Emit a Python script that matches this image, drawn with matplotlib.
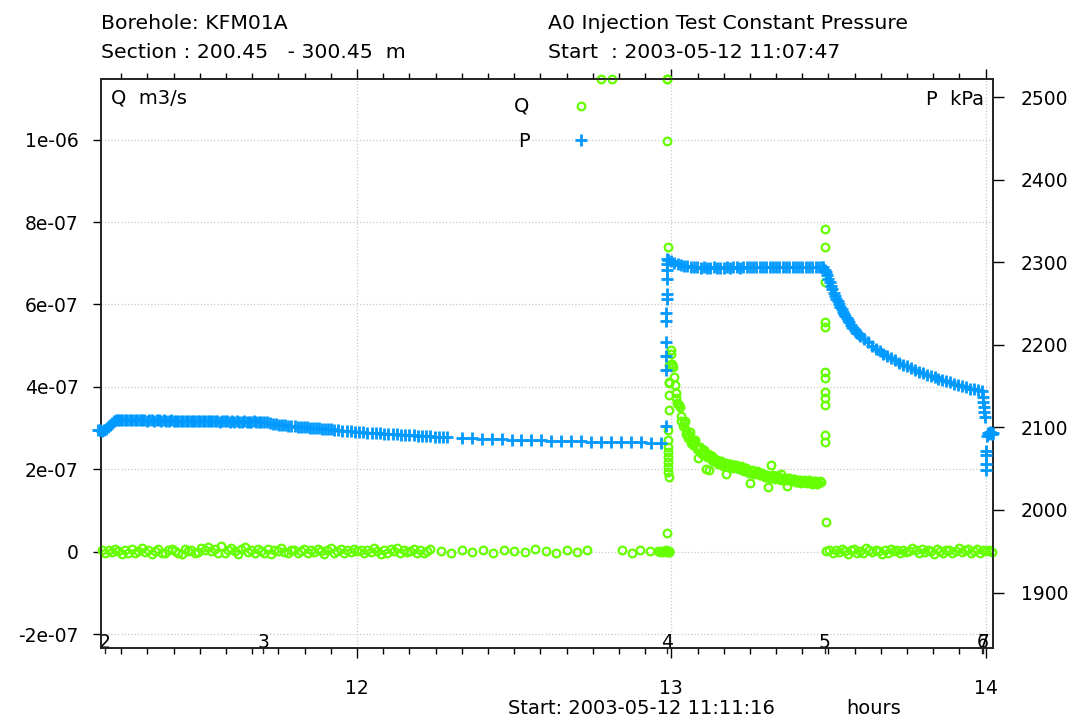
import numpy as np
import matplotlib.pyplot as plt
import matplotlib.transforms as mtransforms
from matplotlib.lines import Line2D
from matplotlib.ticker import MultipleLocator, FixedLocator, FuncFormatter

plt.rcParams['font.family'] = ['DejaVu Sans']

# times: minutes after 11:00, flow Q: 1e-9 m3/s, pressure P: kPa
Q_UNIT = 1e-9

# ---- pressure P ----
p_start = [2097, 2096.5, 2096, 2097, 2098.5, 2100.5, 2103, 2105.5, 2107.5, 2108.5]
p_hold1 = [2108.5, 2109, 2109, 2108.5, 2109, 2108.5, 2108.5, 2109, 2108.5, 2108.5,
           2108.5, 2108.5, 2108, 2108.5, 2108.5, 2108, 2108.5, 2108.5, 2108, 2108.5,
           2108, 2108, 2108.5, 2108, 2108, 2108, 2108, 2107.5, 2108, 2108,
           2108, 2107.5, 2108, 2107.5, 2107.5, 2108, 2107.5, 2107.5, 2107.5, 2107.5,
           2107.5, 2107.5, 2107, 2107.5, 2107.5, 2107.5, 2107, 2107.5, 2107, 2107.5,
           2107, 2107, 2107.5, 2107, 2107, 2107, 2107.5, 2107, 2107, 2107]
p_fall1 = [2106.8, 2106.0, 2105.2, 2104.6, 2104.0, 2103.4, 2102.9, 2102.4, 2102.0, 2101.6,
           2101.2, 2100.8, 2100.5, 2100.2, 2099.9, 2099.6, 2099.3, 2099.0, 2098.7, 2098.4,
           2098.1, 2097.8, 2097.5]
p_fall2 = [2097.2, 2096.7, 2096.2, 2095.8, 2095.4, 2095.0, 2094.6, 2094.2, 2093.8, 2093.5,
           2093.1, 2092.7, 2092.4, 2092.0, 2091.7, 2091.4, 2091.1, 2090.8, 2090.5, 2090.2,
           2089.9, 2089.6, 2089.4, 2089.1, 2088.8, 2088.5, 2088.3, 2088.0]
p_fall3 = [2087.4, 2086.9, 2086.4, 2086.0, 2085.6, 2085.2, 2084.9, 2084.6, 2084.3, 2084.0,
           2083.7, 2083.4, 2083.1, 2082.8, 2082.6, 2082.4, 2082.2, 2082.0, 2081.8, 2081.6,
           2081.4]
p_step_t = [118.9, 119.0, 119.02, 119.04, 119.06, 119.08, 119.1, 119.12, 119.14, 119.16,
            119.18, 119.2]
p_step = [2102, 2169, 2186, 2203, 2229, 2238, 2256, 2262, 2280, 2290, 2298, 2304]
p_hold2 = [2303, 2301, 2299, 2297.5, 2296.5, 2295.5, 2295, 2294.5, 2294, 2294,
           2293.5, 2294, 2293.5, 2293.5, 2294, 2293.5, 2293.5, 2293.5, 2294, 2293.5,
           2294, 2294, 2293.5, 2294, 2294, 2294, 2294.5, 2294, 2294, 2294.5,
           2294, 2294, 2294.5, 2294.5, 2294, 2294.5, 2294.5, 2294.5, 2294, 2294.5,
           2294.5, 2294.5, 2294.5, 2294.5, 2294.5, 2294.5, 2294.5, 2294.5]
p_rec1 = [2294, 2291, 2288, 2284, 2280, 2275.5, 2271, 2267, 2263, 2259.5,
          2256, 2252.5, 2249, 2246, 2243, 2240, 2237, 2234.5, 2232, 2229.5,
          2227, 2224.5, 2222, 2220, 2218, 2216, 2214, 2212.5, 2211]
p_rec2 = [2207, 2203, 2199, 2195, 2192, 2189, 2186, 2183.5, 2181, 2178.5,
          2176, 2174, 2171.5, 2169.5, 2167.5, 2165.5, 2164, 2162, 2160.5, 2159,
          2157.5, 2156, 2154.5, 2153, 2151.5, 2150, 2148.5, 2147, 2146, 2145,
          2144]
p_end_t = [179.45, 179.55, 179.65, 179.75, 179.85, 180.0, 180.05, 180.1, 180.15,
           180.3, 180.5, 180.7, 180.9, 181.1, 181.3, 181.5]
p_end = [2137, 2131, 2125, 2118.5, 2112.5, 2072, 2066, 2056, 2048,
         2090, 2093, 2092, 2094, 2093, 2092, 2093]

# ---- flow Q ----
q_pre = [3, -4, 5, -1, 6, 2, -5, 4, -2, 7, -3, 1, 8, -1, 4, -6, 2, 6, -2, -4,
         5, 7, 1, -3, -5, 6, 2, 4, -4, 0, 9, 3, 12, 1, 6, -3, 13, -2, 4, 10,
         2, -5, 6, 11, -1, 4, -4, 7, 1, -2, 6, -5, 3, 1, 8, -1, -4, 5, 3, -2,
         1, 7, -4, 4, -1, 6, 2, -5, 3, 9, -2, 1, 6, -4, 3, -1, 7, 1, 4, -3,
         5, -1, 10, 2, -5, 4, -2, 6, 1, 8, -4, 3, -1, 2, 6, -2, 4, -3, 1, 7]
q_sparse = [2, -3, 5, 0, 3, -2, 4, 1, -1, 6, 2, -2, 3, 0, 4]
q_late_t = [106.5, 108.6, 110.6, 112.5, 114.0, 115.9, 117.4, 117.9, 118.2, 118.5,
            118.7, 118.9, 119.1, 119.1, 119.15, 119.2]
q_late = [2400, 2100, 3, -2, 4, 1, 2, 0, 2, -1, 1, 3, 0, 1800, 2600, 1]
q_col4_t = [119.15, 119.25, 119.3, 119.35, 119.35, 119.4, 119.4, 119.4, 119.45, 119.45,
            119.45, 119.5, 119.5, 119.5, 119.55, 119.55, 119.6, 119.6, 119.6, 119.65,
            120.0, 120.0, 120.15]
q_col4 = [46, 996, 740, 295, 271, 255, 243, 231, 218, 205,
          194, 182, 409, 380, 344, 453, 413, 0, 2, -1,
          490, 480, 453]
q_dec1 = [455, 425, 405, 385, 360, 355, 352, 330, 305, 312, 318, 295, 276, 282, 290, 270,
          258, 263, 272, 256, 228, 250, 255, 238, 242, 248, 200, 235, 236, 198, 229, 232, 219]
q_dec2 = [222, 218, 221, 212, 188, 214, 207, 211, 203, 206, 199, 204, 196, 167, 195, 190,
          194, 186, 188, 182, 158, 210, 181, 184, 177, 189, 176, 159, 178, 173, 176, 170,
          174, 168, 172, 169, 171, 167, 172, 166, 170]
q_dec3 = [448, 372, 358, 318, 312, 286, 284, 264, 268, 249, 254, 240, 243, 229, 234, 222,
          226, 214, 220, 209, 216, 206, 213, 203, 210, 200, 207, 196, 203, 192, 199, 189,
          195, 185, 191, 181, 187, 178, 185, 176, 183, 174, 180, 173, 179, 171, 177, 169,
          175, 167, 174, 166, 173, 165, 172, 164, 171]
q_col5_t = [149.25, 149.25, 149.3, 149.3, 149.3, 149.3, 149.35, 149.35, 149.35, 149.35,
            149.4, 149.4, 149.45]
q_col5 = [783, 740, 655, 558, 546, 437, 421, 388, 372, 356, 283, 267, 73]
q_post = [2, 5, -3, 4, -1, 7, 1, -5, 3, 6, -2, 2, -4, 8, 3, -1, 5, 1, -5, 4,
          -2, 7, 1, 5, -4, 3, -1, 2, 9, 3, -4, 6, -1, 4, 1, -5, 7, 2, -2, 5,
          3, -4, 1, 8, -1, 4, 6, -3, 1, 7, -2, 4, 1, 5, -1]

# event numbers along the time axis
events = ['2', '3', '4', '5', '6', '7']
event_t = [11.8, 42.1, 119.2, 149.3, 179.4, 179.5]


def span(t0, t1, vals):
    return np.linspace(t0, t1, len(vals))


def hours(minutes):
    return 11 + np.asarray(minutes, dtype=float) / 60.0


p_t = np.concatenate([span(10.6, 13.9, p_start), span(14.3, 41.7, p_hold1),
                      span(42.3, 55.0, p_fall1), span(55.6, 77.2, p_fall2),
                      span(80.0, 118.0, p_fall3), p_step_t, span(119.3, 148.8, p_hold2),
                      span(149.0, 156.0, p_rec1), span(156.75, 179.25, p_rec2), p_end_t])
p_val = np.concatenate([p_start, p_hold1, p_fall1, p_fall2, p_fall3, p_step, p_hold2,
                        p_rec1, p_rec2, p_end])

q_t = np.concatenate([span(11.3, 74.0, q_pre), span(76.0, 104.0, q_sparse), q_late_t,
                      q_col4_t, span(120.2, 128.0, q_dec1), span(128.5, 148.5, q_dec2),
                      span(120.35, 148.35, q_dec3), q_col5_t, span(149.6, 181.3, q_post)])
q_val = np.concatenate([q_pre, q_sparse, q_late, q_col4, q_dec1, q_dec2, q_dec3, q_col5,
                        q_post]) * Q_UNIT

q_lim = (-2.337e-7, 1.1473e-6)
p_lim = (1832.9, 2521.8)

Q_STYLE = dict(marker='o', ms=5.5, mew=1.6, mfc='none', mec='#66ff00', ls='none')
P_STYLE = dict(marker='+', ms=8.5, mew=2.0, color='#0099ff', ls='none')

fig = plt.figure(figsize=(10.73, 7.16), dpi=100)
ax = fig.add_axes([101 / 1073, 68 / 716, 892 / 1073, 569 / 716])
ax2 = ax.twinx()

# off-scale flow values are pinned to the frame
ax.plot(hours(q_t), np.clip(q_val, q_lim[0], q_lim[1]), clip_on=False, zorder=3, **Q_STYLE)
ax2.plot(hours(p_t), p_val, clip_on=False, zorder=3, **P_STYLE)

ax.set_xlim(11.1855, 14.0235)
ax.set_ylim(*q_lim)
ax2.set_ylim(*p_lim)

ax.xaxis.set_major_locator(FixedLocator([12, 13, 14]))
ax.xaxis.set_minor_locator(MultipleLocator(5 / 60))
ax.xaxis.set_major_formatter(FuncFormatter(lambda v, pos: '%d' % round(v)))
ax.yaxis.set_major_locator(MultipleLocator(2e-7))
ax.yaxis.set_major_formatter(FuncFormatter(lambda v, pos: '0' if abs(v) < 1e-12 else '%.0e' % v))
ax2.yaxis.set_major_locator(MultipleLocator(100))

ax.grid(True, which='major', color='#c8c8c8', linestyle=':', linewidth=0.9)
ax2.grid(False)

ax.tick_params(axis='x', which='major', direction='out', length=7, width=1,
               top=True, labelsize=13.5, pad=15.5)
ax.tick_params(axis='x', which='minor', direction='out', length=4, width=1, top=True)
ax.tick_params(axis='y', direction='out', length=6, width=1, labelsize=13.5, pad=10)
ax2.tick_params(axis='y', direction='out', length=8, width=1, labelsize=13.5, pad=12)

for a in (ax, ax2):
    for s in a.spines.values():
        s.set_linewidth(1.2)
        s.set_color('#222222')

# event markers on the time axis
trans = mtransforms.blended_transform_factory(ax.transData, ax.transAxes)
for lab, t in zip(events, event_t):
    x = hours(t)
    ax.text(x, 0.0, lab, transform=trans, ha='center', va='baseline', fontsize=13.5)
    ax.plot([x, x], [0, -0.009], transform=trans, color='#222222', lw=1, clip_on=False)

# axis unit labels inside the frame
ax.text(0.011, 0.957, 'Q  m3/s', transform=ax.transAxes, fontsize=14, va='baseline')
ax.text(0.99, 0.955, 'P  kPa', transform=ax.transAxes, fontsize=14, va='baseline',
        ha='right')

# legend
fig.text(522 / 1073, 1 - 112 / 716, 'Q', fontsize=14, ha='center', va='baseline')
fig.text(524 / 1073, 1 - 147 / 716, 'P', fontsize=14, ha='center', va='baseline')
fig.add_artist(Line2D([580.7 / 1073], [1 - 106 / 716], transform=fig.transFigure, **Q_STYLE))
fig.add_artist(Line2D([580.7 / 1073], [1 - 140 / 716], transform=fig.transFigure, **P_STYLE))

# header and footer
fig.text(101 / 1073, 1 - 29 / 716, 'Borehole: KFM01A', fontsize=14.7, va='baseline')
fig.text(101 / 1073, 1 - 58 / 716, 'Section : 200.45   - 300.45  m', fontsize=14.7,
         va='baseline')
fig.text(548 / 1073, 1 - 29 / 716, 'A0 Injection Test Constant Pressure', fontsize=14.7,
         va='baseline')
fig.text(548 / 1073, 1 - 58 / 716, 'Start  : 2003-05-12 11:07:47', fontsize=14.7,
         va='baseline')
fig.text(508 / 1073, 1 - 714 / 716, 'Start: 2003-05-12 11:11:16', fontsize=14,
         va='baseline')
fig.text(846 / 1073, 1 - 714 / 716, 'hours', fontsize=14, va='baseline')

fig.savefig('out.png', dpi=100)
